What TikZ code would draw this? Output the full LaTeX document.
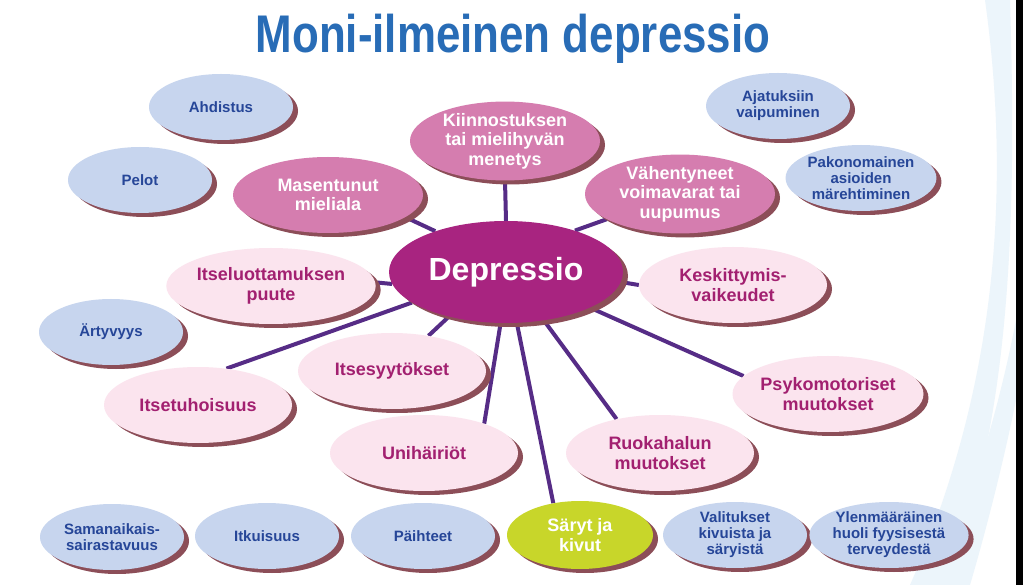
\documentclass[tikz,border=0pt]{standalone}
\usepackage{fontspec}
\setmainfont{Liberation Sans}
\usepackage{graphicx}
\usetikzlibrary{shapes.geometric,shadows,backgrounds}
\definecolor{titleblue}{RGB}{40,108,182}
\definecolor{bluefill}{RGB}{199,213,238}
\definecolor{bluetext}{RGB}{38,70,152}
\definecolor{pinkfill}{RGB}{213,125,175}
\definecolor{lightfill}{RGB}{251,228,238}
\definecolor{lighttext}{RGB}{162,32,112}
\definecolor{depfill}{RGB}{168,36,128}
\definecolor{greenfill}{RGB}{200,214,42}
\definecolor{shadowc}{RGB}{140,78,88}
\definecolor{linkc}{RGB}{86,44,134}
\definecolor{swoosh}{RGB}{236,245,251}
\begin{document}
\begin{tikzpicture}[x=1pt,y=-1pt,
  base/.style={ellipse, inner sep=0pt, align=center,
    general shadow={fill=shadowc, shadow xshift=5pt, shadow yshift=-4pt}},
  bluebox/.style={base, fill=bluefill, text=bluetext, minimum width=144pt, minimum height=66pt,
    font=\fontsize{15}{16}\selectfont\bfseries},
  pinkbox/.style={base, fill=pinkfill, text=white, minimum width=190pt, minimum height=76pt,
    font=\fontsize{18}{19.5}\selectfont\bfseries},
  lightbox/.style={base, fill=lightfill, text=lighttext, minimum width=188pt, minimum height=76pt,
    font=\fontsize{18}{19.5}\selectfont\bfseries},
  greenbox/.style={base, fill=greenfill, text=white, minimum width=146pt, minimum height=68pt,
    font=\fontsize{18}{19.5}\selectfont\bfseries},
  centralbox/.style={base, fill=depfill, text=white, minimum width=234pt, minimum height=102pt,
    font=\fontsize{32}{34}\selectfont\bfseries},
  link/.style={draw=linkc, line width=4pt}]
\useasboundingbox (0,0) rectangle (1023,585);
\begin{scope}[on background layer]
  \fill[white] (0,0) rectangle (1023,585);
  \fill[swoosh] (985,0) .. controls (1010,180) and (1000,380) .. (910,585)
     -- (945,585) .. controls (1014,420) and (1016,200) .. (1010,0) -- cycle;
  \fill[swoosh] (1016,320) .. controls (995,430) and (965,510) .. (940,585)
     -- (970,585) .. controls (992,510) and (1008,440) .. (1016,400) -- cycle;
  \fill[black] (1016,0) rectangle (1023,585);
\end{scope}

\node[anchor=base, text=titleblue, font=\fontsize{53}{53}\selectfont\bfseries] (title) at (513,53)
  {\scalebox{0.828}[1]{Moni-ilmeinen depressio}};

% blue outer nodes
\node[bluebox] (ahd) at (221,107) {Ahdistus};
\node[bluebox] (pel) at (140,180) {Pelot};
\node[bluebox] (art) at (111,332) {Ärtyvyys};
\node[bluebox] (ajat) at (778,106) {Ajatuksiin\\vaipuminen};
\node[bluebox] (pako) at (861,178) {Pakonomainen\\asioiden\\märehtiminen};
\node[bluebox] (sama) at (112,537) {Samanaikais-\\sairastavuus};
\node[bluebox] (itku) at (267,536) {Itkuisuus};
\node[bluebox] (paih) at (423,536) {Päihteet};
\node[bluebox] (vali) at (735,535) {Valitukset\\kivuista ja\\säryistä};
\node[bluebox] (ylen) at (889,535) {Ylenmääräinen\\huoli fyysisestä\\terveydestä};

% pink nodes
\node[pinkbox] (kiin) at (505,141) {Kiinnostuksen\\tai mielihyvän\\menetys};
\node[pinkbox] (mas) at (328,195) {Masentunut\\mieliala};
\node[pinkbox] (vah) at (680,194) {Vähentyneet\\voimavarat tai\\uupumus};

% central
\node[centralbox] (dep) at (506,272) {Depressio};

% light pink nodes
\node[lightbox] (itsel) at (271,286) {Itseluottamuksen\\puute};
\node[lightbox] (kesk) at (733,285) {Keskittymis-\\vaikeudet};
\node[lightbox] (isyy) at (392,371) {Itsesyytökset};
\node[lightbox] (ituh) at (198,405) {Itsetuhoisuus};
\node[lightbox] (psy) at (828,394) {Psykomotoriset\\muutokset};
\node[lightbox] (uni) at (424,453) {Unihäiriöt};
\node[lightbox] (ruo) at (660,453) {Ruokahalun\\muutokset};

% green
\node[greenbox] (sar) at (580,535) {Säryt ja\\kivut};

\begin{scope}[on background layer]
  \draw[link] (dep.90) -- (kiin.270);
  \draw[link] (dep.150) -- (mas.344);
  \draw[link] (dep.31) -- (vah.199);
  \draw[link] (dep.186) -- (itsel.2);
  \draw[link] (dep.355) -- (kesk.180);
  \draw[link] (dep.198) -- (ituh.52);
  \draw[link] (dep.218) -- (isyy.44);
  \draw[link] (dep.264) -- (uni.26);
  \draw[link] (dep.282) -- (sar.130);
  \draw[link] (dep.308) -- (ruo.142);
  \draw[link] (dep.337) -- (psy.168);
\end{scope}
\end{tikzpicture}
\end{document}
